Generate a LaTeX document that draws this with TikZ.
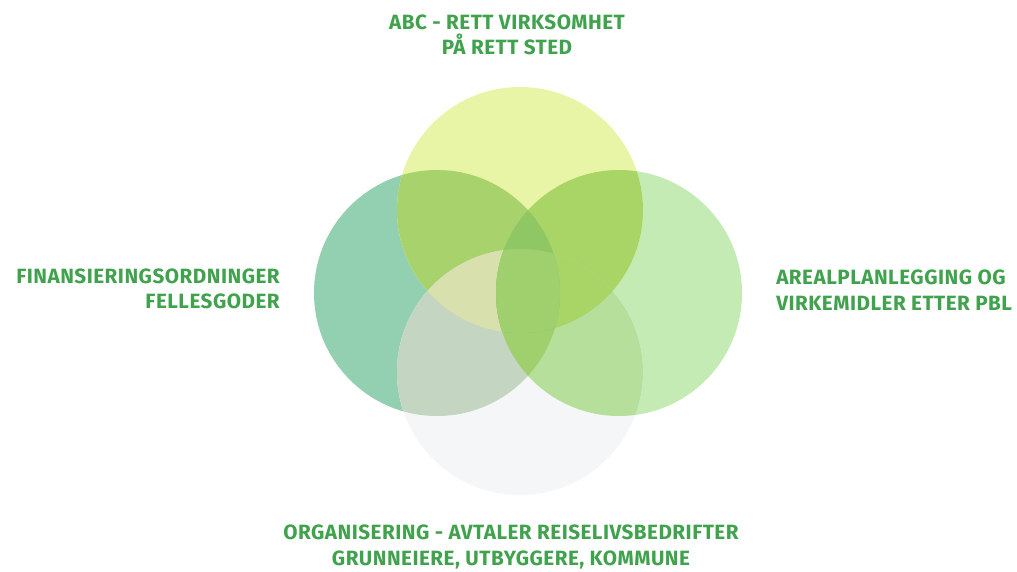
\documentclass[tikz,border=0pt]{standalone}
\usepackage{fontspec}
\setmainfont{Fira Sans}[LetterSpace=2.4]
\definecolor{labelgreen}{HTML}{40A24D}
\definecolor{cTop}{HTML}{E8F4A6}
\definecolor{cLeft}{HTML}{93D0B2}
\definecolor{cRight}{HTML}{C3EBB3}
\definecolor{cBottom}{HTML}{F4F6F8}
\definecolor{cTopLeft}{HTML}{A8D26C}
\definecolor{cTopRight}{HTML}{A9D567}
\definecolor{cLeftBottom}{HTML}{C4D5C1}
\definecolor{cRightBottom}{HTML}{B6DF9C}
\definecolor{cMid}{HTML}{D8E0AE}
\definecolor{cLens}{HTML}{A0CF6E}
\definecolor{cTip}{HTML}{8FC765}
\tikzset{
  label/.style={text=labelgreen, font=\bfseries\fontsize{15.5}{19}\selectfont, inner sep=0pt},
}
\begin{document}
\begin{tikzpicture}[x=0.75pt,y=-0.75pt]
\useasboundingbox (0,0) rectangle (1017,571);
\def\rad{123}
\coordinate (top) at (520,210);
\coordinate (left) at (437,293);
\coordinate (right) at (619,293);
\coordinate (bottom) at (520,372);

% plain circles
\fill[cLeft] (left) circle (\rad);
\fill[cRight] (right) circle (\rad);
\fill[cTop] (top) circle (\rad);
\fill[cBottom] (bottom) circle (\rad);

% overlaps
\begin{scope}
\clip (top) circle (\rad);
\fill[cTopLeft] (left) circle (\rad);
\fill[cTopRight] (right) circle (\rad);
\end{scope}
\begin{scope}
\clip (bottom) circle (\rad);
\fill[cLeftBottom] (left) circle (\rad);
\fill[cRightBottom] (right) circle (\rad);
\begin{scope}
\clip (top) circle (\rad);
\fill[cMid] (left) circle (\rad);
\fill[cTopRight] (right) circle (\rad);
\end{scope}
\end{scope}
\begin{scope}
\clip (left) circle (\rad);
\fill[cLens] (right) circle (\rad);
\clip (right) circle (\rad);
\fill[cTip] (top) circle (\rad);
\clip (bottom) circle (\rad);
\fill[cLens] (top) circle (\rad);
\end{scope}

% labels
\node[label, align=center] (abc) at (507,35) {ABC - RETT VIRKSOMHET\\PÅ RETT STED};
\node[label, align=right, anchor=east] (finans) at (280,289) {FINANSIERINGSORDNINGER\\FELLESGODER};
\node[label, align=left, anchor=west] (areal) at (776,290) {AREALPLANLEGGING OG\\VIRKEMIDLER ETTER PBL};
\node[label, align=center] (org) at (511,547) {ORGANISERING - AVTALER REISELIVSBEDRIFTER\\GRUNNEIERE, UTBYGGERE, KOMMUNE};
\end{tikzpicture}
\end{document}
